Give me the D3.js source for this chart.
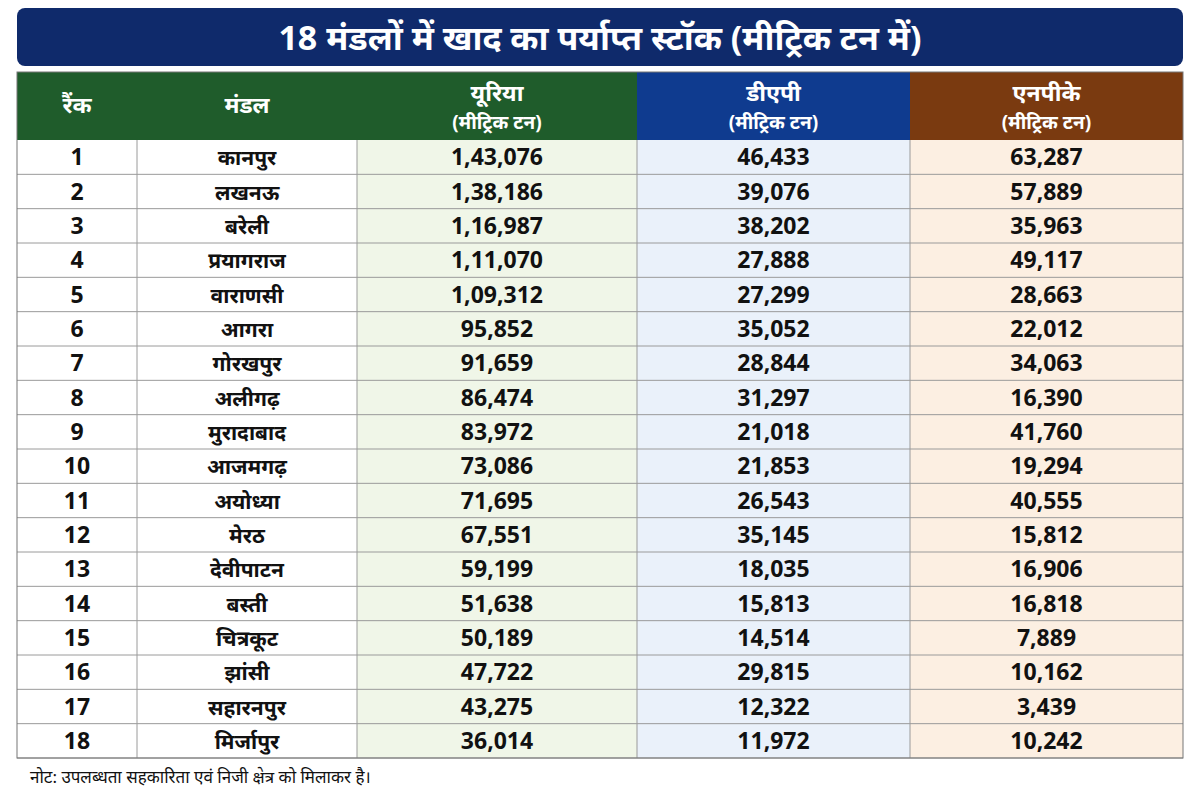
<!DOCTYPE html>
<html><head><meta charset="utf-8">
<script src="https://cdn.jsdelivr.net/npm/d3@7"></script>
<style>body{margin:0;background:#fff}text{font-family:"Noto Sans","Noto Sans Devanagari","Lohit Devanagari",sans-serif}</style>
</head><body><svg id="c" width="1200" height="800"></svg>
<script>
const ranks = d3.range(1, 19);
const mandals = ["कानपुर","लखनऊ","बरेली","प्रयागराज","वाराणसी","आगरा","गोरखपुर","अलीगढ़","मुरादाबाद","आजमगढ़","अयोध्या","मेरठ","देवीपाटन","बस्ती","चित्रकूट","झांसी","सहारनपुर","मिर्जापुर"];
const urea = [143076,138186,116987,111070,109312,95852,91659,86474,83972,73086,71695,67551,59199,51638,50189,47722,43275,36014];
const dap = [46433,39076,38202,27888,27299,35052,28844,31297,21018,21853,26543,35145,18035,15813,14514,29815,12322,11972];
const npk = [63287,57889,35963,49117,28663,22012,34063,16390,41760,19294,40555,15812,16906,16818,7889,10162,3439,10242];

const fmt = v => v.toLocaleString("en-IN");
const svg = d3.select("#c");

// title
svg.append("rect").attr("x",17).attr("y",8).attr("width",1166).attr("height",58).attr("rx",8).attr("fill","#0f2a6b");
svg.append("text").attr("x",600).attr("y",50).attr("text-anchor","middle").attr("fill","#fff")
  .attr("font-size",34).attr("font-weight","bold").text("18 मंडलों में खाद का पर्याप्त स्टॉक (मीट्रिक टन में)");

const cols = [
  {key:"rank", x0:17, x1:137, head:["रैंक"], hc:"#1f5c2b", bg:"#fff"},
  {key:"mandal", x0:137, x1:357, head:["मंडल"], hc:"#1f5c2b", bg:"#fff"},
  {key:"urea", x0:357, x1:637, head:["यूरिया","(मीट्रिक टन)"], hc:"#1f5c2b", bg:"#f0f6e8"},
  {key:"dap", x0:637, x1:910, head:["डीएपी","(मीट्रिक टन)"], hc:"#0f3b8f", bg:"#eaf1fa"},
  {key:"npk", x0:910, x1:1183, head:["एनपीके","(मीट्रिक टन)"], hc:"#7a3a10", bg:"#fcefe2"}
];
const y = d3.scaleBand().domain(ranks).range([140, 758]);
const hTop = 72, hBot = 140;

cols.forEach(c => {
  svg.append("rect").attr("x",c.x0).attr("y",hTop).attr("width",c.x1-c.x0).attr("height",hBot-hTop).attr("fill",c.hc);
  svg.append("rect").attr("x",c.x0).attr("y",hBot).attr("width",c.x1-c.x0).attr("height",758-hBot).attr("fill",c.bg);
  const cx = (c.x0+c.x1)/2;
  if (c.head.length === 1) {
    svg.append("text").attr("x",cx).attr("y",113).attr("text-anchor","middle").attr("fill","#fff").attr("font-size",23).attr("font-weight","bold").text(c.head[0]);
  } else {
    svg.append("text").attr("x",cx).attr("y",101).attr("text-anchor","middle").attr("fill","#fff").attr("font-size",23).attr("font-weight","bold").text(c.head[0]);
    svg.append("text").attr("x",cx).attr("y",129).attr("text-anchor","middle").attr("fill","#fff").attr("font-size",19).attr("font-weight","bold").text(c.head[1]);
  }
});

const vals = {rank: ranks, mandal: mandals, urea: urea.map(fmt), dap: dap.map(fmt), npk: npk.map(fmt)};
ranks.forEach((r, i) => {
  svg.append("line").attr("x1",17).attr("x2",1183).attr("y1",y(r)+y.bandwidth()).attr("y2",y(r)+y.bandwidth()).attr("stroke","#9a9a9a").attr("stroke-width",1);
  cols.forEach(c => {
    svg.append("text").attr("x",(c.x0+c.x1)/2).attr("y",y(r)+y.bandwidth()/2+8).attr("text-anchor","middle")
      .attr("fill","#111").attr("font-size",c.key==="mandal"?21:23).attr("font-weight","bold").text(vals[c.key][i]);
  });
});
// vertical lines + border
cols.slice(1).forEach(c => svg.append("line").attr("x1",c.x0).attr("x2",c.x0).attr("y1",hBot).attr("y2",758).attr("stroke","#9a9a9a"));
svg.append("rect").attr("x",17).attr("y",hTop).attr("width",1166).attr("height",758-hTop).attr("fill","none").attr("stroke","#777");

svg.append("text").attr("x",30).attr("y",783).attr("font-size",17).attr("fill","#111").text("नोट: उपलब्धता सहकारिता एवं निजी क्षेत्र को मिलाकर है।");
</script></body></html>
